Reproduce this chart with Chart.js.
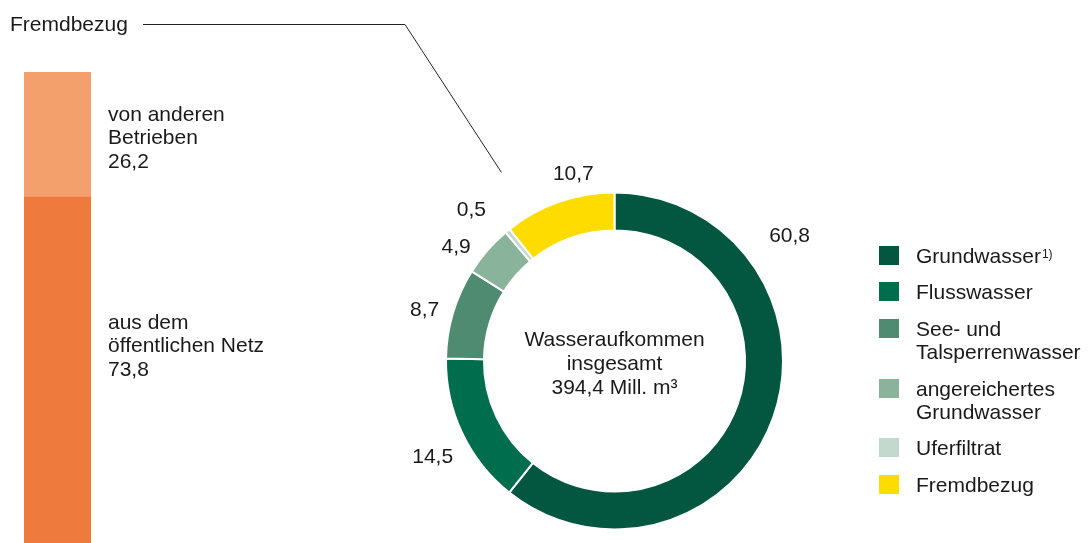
<!DOCTYPE html>
<html>
<head>
<meta charset="utf-8">
<script src="https://cdn.jsdelivr.net/npm/chart.js@4"></script>
<style>
  html, body { margin:0; padding:0; width:1088px; height:543px; overflow:hidden; background:#fff; }
  body { position:relative; font-family:"Liberation Sans", Arial, sans-serif; color:#1a1a1a; }
  canvas { position:absolute; left:0; top:0; }
  #legend { position:absolute; left:879px; top:243.5px; font-size:21px; line-height:23px; }
  .item { display:flex; align-items:flex-start; margin-bottom:13.7px; }
  .sw { width:20px; height:19px; margin-top:2px; margin-right:17px; flex:none; }
  sup { font-size:12px; vertical-align:top; position:relative; top:-1px; margin-left:1px; }
</style>
</head>
<body>
<canvas id="bar" width="320" height="549"></canvas>
<canvas id="donut" width="1088" height="543"></canvas>
<div id="legend"></div>
<script>
// ---- data ----
const donutCategories = ["Grundwasser", "Flusswasser", "See- und Talsperrenwasser", "angereichertes Grundwasser", "Uferfiltrat", "Fremdbezug"];
const legendLines = [["Grundwasser"], ["Flusswasser"], ["See- und", "Talsperrenwasser"], ["angereichertes", "Grundwasser"], ["Uferfiltrat"], ["Fremdbezug"]];
const donutValues = [60.8, 14.5, 8.7, 4.9, 0.5, 10.7];
const totalVolume = "394,4 Mill. m³";
const centerLines = ["Wasseraufkommen", "insgesamt", totalVolume];

const barCategories = ["Fremdbezug"];
const barSeriesNames = [["aus dem", "öffentlichen Netz"], ["von anderen", "Betrieben"]];
const barPublicNet = [73.8];
const barOtherCompanies = [26.2];

// ---- styles ----
const donutColors = ["#035640", "#006D4C", "#4F8B71", "#8AB39C", "#C3D9CE", "#FFDC00"];
const barColors = ["#EE7A3E", "#F4A06C"];
const FONT = '21px "Liberation Sans", Arial, sans-serif';
const TXT = "#1a1a1a";
const fmt = v => v.toFixed(1).replace(".", ",");

// label placement: angle delta (deg) from arc middle, extra distance beyond outer radius
const labelDelta = [-54.8, -2.5, -1.6, -5.2, -4.2, 6.8];
const labelExtra = [46.5, 37, 28, 26.5, 39, 22.5];

// ---- legend ----
const leg = document.getElementById("legend");
legendLines.forEach((lines, i) => {
  const it = document.createElement("div"); it.className = "item";
  const sw = document.createElement("div"); sw.className = "sw"; sw.style.background = donutColors[i];
  const tx = document.createElement("div");
  tx.innerHTML = lines.join("<br>") + (i === 0 ? "<sup>1)</sup>" : "");
  it.appendChild(sw); it.appendChild(tx); leg.appendChild(it);
});

// ---- bar chart ----
const barLabelPlugin = {
  id: "barLabels",
  afterDatasetsDraw(chart) {
    const ctx = chart.ctx;
    ctx.save();
    ctx.font = FONT; ctx.fillStyle = TXT; ctx.textBaseline = "middle"; ctx.textAlign = "left";
    const firstOffset = [126, 43];
    chart.data.datasets.forEach((ds, di) => {
      const el = chart.getDatasetMeta(di).data[0];
      const p = el.getProps(["x", "y", "width", "base"], true);
      const top = Math.min(p.y, p.base);
      const lines = barSeriesNames[di].concat([fmt(ds.data[0])]);
      const x = p.x + p.width / 2 + 17;
      lines.forEach((t, li) => ctx.fillText(t, x, top + firstOffset[di] + li * 23.5));
    });
    ctx.restore();
  }
};

new Chart(document.getElementById("bar"), {
  type: "bar",
  data: {
    labels: barCategories,
    datasets: [
      { label: "aus dem öffentlichen Netz", data: barPublicNet, backgroundColor: barColors[0], barPercentage: 1, categoryPercentage: 1 },
      { label: "von anderen Betrieben", data: barOtherCompanies, backgroundColor: barColors[1], barPercentage: 1, categoryPercentage: 1 }
    ]
  },
  options: {
    responsive: false, animation: false,
    layout: { padding: { left: 24, right: 229, top: 72, bottom: 0 } },
    plugins: { legend: { display: false }, tooltip: { enabled: false } },
    scales: {
      x: { stacked: true, display: false },
      y: { stacked: true, display: false, min: 0, max: 100 }
    }
  },
  plugins: [barLabelPlugin]
});

// ---- doughnut ----
const donutTextPlugin = {
  id: "donutText",
  afterDatasetsDraw(chart) {
    const ctx = chart.ctx;
    const meta = chart.getDatasetMeta(0);
    ctx.save();
    ctx.font = FONT; ctx.fillStyle = TXT; ctx.textBaseline = "middle"; ctx.textAlign = "center";
    let cx = 0, cy = 0;
    meta.data.forEach((arc, i) => {
      const p = arc.getProps(["x", "y", "startAngle", "endAngle", "outerRadius"], true);
      cx = p.x; cy = p.y;
      const a = (p.startAngle + p.endAngle) / 2 + labelDelta[i] * Math.PI / 180;
      const r = p.outerRadius + labelExtra[i];
      ctx.fillText(fmt(chart.data.datasets[0].data[i]), p.x + Math.cos(a) * r, p.y + Math.sin(a) * r);
    });
    // center text
    const offs = [-21, 3.5, 27.5];
    centerLines.forEach((t, i) => ctx.fillText(t, cx, cy + offs[i]));
    // Fremdbezug callout
    ctx.textAlign = "left";
    ctx.fillText("Fremdbezug", 10, 25);
    ctx.strokeStyle = "#222"; ctx.lineWidth = 1;
    ctx.beginPath();
    ctx.moveTo(143, 24.5);
    ctx.lineTo(405, 24.5);
    ctx.lineTo(cx - 113, cy - 188.5);
    ctx.stroke();
    ctx.restore();
  }
};

new Chart(document.getElementById("donut"), {
  type: "doughnut",
  data: {
    labels: donutCategories,
    datasets: [{
      data: donutValues,
      backgroundColor: donutColors,
      borderColor: "#ffffff",
      borderWidth: 2,
      radius: 168.5,
      cutout: 129
    }]
  },
  options: {
    responsive: false, animation: false,
    layout: { padding: { left: 447, right: 306, top: 193.5, bottom: 14.5 } },
    plugins: { legend: { display: false }, tooltip: { enabled: false } }
  },
  plugins: [donutTextPlugin]
});
</script>
</body>
</html>
